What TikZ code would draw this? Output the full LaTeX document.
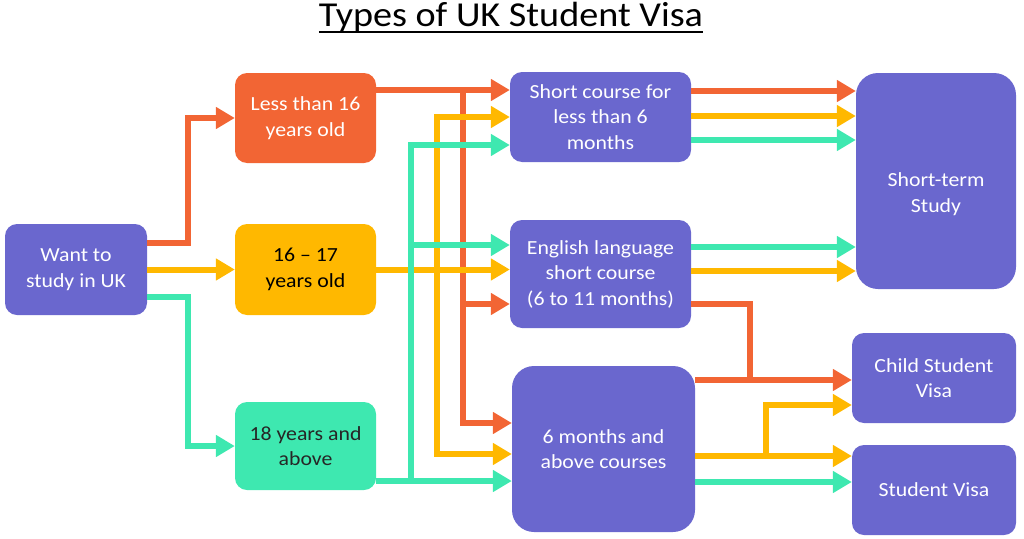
\documentclass[tikz,border=0pt]{standalone}
\usepackage{fontspec}
\setmainfont{Carlito}[FakeStretch=1.09]
\usetikzlibrary{arrows.meta}
\definecolor{boxblue}{HTML}{6A67CE}
\definecolor{ageorange}{HTML}{F26534}
\definecolor{ageamber}{HTML}{FFB800}
\definecolor{agemint}{HTML}{3EE8B0}

\begin{document}
\begin{tikzpicture}[
    x=1pt,
    y=-1pt,
    box/.style={
        rectangle,
        rounded corners=12pt,
        inner sep=0pt,
        align=center,
        font=\fontsize{20}{25.5}\selectfont
    },
    course/.style={
        box,
        fill=boxblue,
        text=white
    },
    arr/.style={
        line width=6pt,
        -{Triangle[length=19pt,width=21pt]}
    },
    redarr/.style={arr, ageorange},
    yelarr/.style={arr, ageamber},
    grnarr/.style={arr, agemint},
    redline/.style={line width=6pt, ageorange}
]
\useasboundingbox (0,0) rectangle (1024,538);

% title
\node[inner sep=0pt, anchor=base, font=\fontsize{35}{40}\selectfont] (T) at (511,27) {Types of UK Student Visa};
\draw[line width=2pt] ([yshift=-5pt]T.base west) -- ([yshift=-5pt]T.base east);

% start and age groups
\node[course, minimum width=142pt, minimum height=91pt] (W) at (76,269.5) {Want to\\study in UK};
\node[box, fill=ageorange, text=white, minimum width=141pt, minimum height=90pt] (LT) at (305.5,118) {Less than 16\\years old};
\node[box, fill=ageamber, text=black, minimum width=141pt, minimum height=91pt] (MID) at (305.5,269.5) {16 – 17\\years old};
\node[box, fill=agemint, text=black!85, minimum width=141pt, minimum height=88pt] (AD) at (305.5,446) {18 years and\\above};

% courses
\node[course, minimum width=181pt, minimum height=90pt] (SC) at (600.5,117) {Short course for\\less than 6\\months};
\node[course, minimum width=181pt, minimum height=108pt] (EL) at (600.5,274) {English language\\short course\\(6 to 11 months)};
\node[course, rounded corners=22pt, minimum width=183pt, minimum height=166pt] (SM) at (603.5,449) {6 months and\\above courses};

% visas
\node[course, rounded corners=22pt, minimum width=160pt, minimum height=216pt] (ST) at (936,181) {\rule{0pt}{40pt}Short-term\\Study};
\node[course, minimum width=164pt, minimum height=90pt] (CV) at (934,378) {Child Student\\Visa};
\node[course, minimum width=164pt, minimum height=90pt] (SV) at (934,490) {Student Visa};

% start to age groups
\draw[redarr] (W.east |- 0,243) -- (188,243) |- (LT.west);
\draw[yelarr] (W.east) -- (MID.west);
\draw[grnarr] (W.east |- 0,297) -- (188,297) |- (AD.west);

% age groups to courses
\draw[redarr] (LT.east |- 0,90) -- (SC.west |- 0,90);
\draw[redarr] (463,90) |- (SM.west |- 0,423);
\draw[redarr] (463,304) -- (EL.west |- 0,304);

\draw[yelarr] (MID.east) -- (EL.west |- MID.east);
\draw[yelarr] (437,269.5) |- (SC.west |- 0,117);
\draw[yelarr] (437,269.5) |- (SM.west |- 0,454);

\draw[grnarr] (AD.east |- 0,481) -- (SM.west |- 0,481);
\draw[grnarr] (411,481) |- (SC.west |- 0,145);
\draw[grnarr] (411,245) -- (EL.west |- 0,245);

% courses to visas
\draw[redarr] (SC.east |- 0,91) -- (ST.west |- 0,91);
\draw[yelarr] (SC.east |- 0,116) -- (ST.west |- 0,116);
\draw[grnarr] (SC.east |- 0,140) -- (ST.west |- 0,140);

\draw[grnarr] (EL.east |- 0,247) -- (ST.west |- 0,247);
\draw[yelarr] (EL.east |- 0,271) -- (ST.west |- 0,271);
\draw[redline] (EL.east |- 0,304) -| (750,380);

\draw[redarr] (SM.east |- 0,380) -- (CV.west |- 0,380);
\draw[yelarr] (SM.east |- 0,456) -- (SV.west |- 0,456);
\draw[yelarr] (766,456) |- (CV.west |- 0,405);
\draw[grnarr] (SM.east |- 0,482) -- (SV.west |- 0,482);

\end{tikzpicture}
\end{document}
